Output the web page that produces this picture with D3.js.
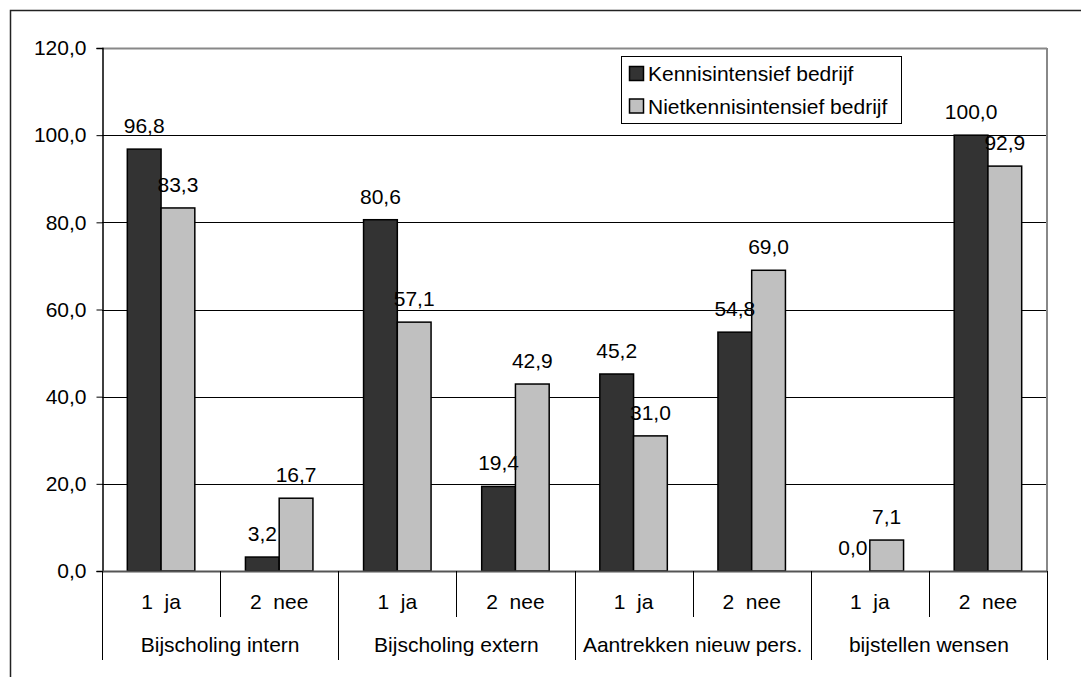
<!DOCTYPE html>
<html>
<head>
<meta charset="utf-8">
<script src="https://cdn.jsdelivr.net/npm/d3@7"></script>
<style>
  html, body { margin: 0; padding: 0; background: #fff; overflow: hidden; }
  svg { display: block; overflow: hidden; }
  text { font-family: "Liberation Sans", Arial, sans-serif; fill: #000; }
</style>
</head>
<body>
<svg id="chart" width="1081" height="677"></svg>
<script>
// Survey answers per question (ja / nee), percentages per company type
const groups = ["Bijscholing intern", "Bijscholing extern", "Aantrekken nieuw pers.", "bijstellen wensen"];
const answers = ["1  ja", "2  nee"];
const seriesNames = ["Kennisintensief bedrijf", "Nietkennisintensief bedrijf"];
const kennisintensief = [96.8, 3.2, 80.6, 19.4, 45.2, 54.8, 0.0, 100.0];
const nietKennisintensief = [83.3, 16.7, 57.1, 42.9, 31.0, 69.0, 7.1, 92.9];
const yTicks = [0, 20, 40, 60, 80, 100, 120];
const seriesColors = ["#333333", "#c0c0c0"];

const svg = d3.select("#chart");
const plot = { left: 102, right: 1047, top: 48, bottom: 571 };
const fontSize = 21;

// Outer chart frame (left and top edges fall inside the page)
svg.append("path")
  .attr("d", "M10.5,700 V10.5 H1100")
  .attr("fill", "none").attr("stroke", "#222").attr("stroke-width", 1.5);

// Category slots: one per question/answer combination
const slots = [];
groups.forEach((g, gi) => answers.forEach((a, ai) => slots.push({ group: g, answer: a, idx: gi * answers.length + ai })));

const x = d3.scaleBand().domain(slots.map(s => s.idx)).range([plot.left, plot.right]).padding(0);
const xSeries = d3.scaleBand().domain([0, 1]).range([0, x.bandwidth()]).paddingInner(0).paddingOuter(0.75);
const y = d3.scaleLinear().domain([0, 120]).range([plot.bottom, plot.top]);

const fmt = v => d3.format(".1f")(v).replace(".", ",");

// Horizontal gridlines
svg.append("g").selectAll("line")
  .data(yTicks.filter(t => t > 0))
  .join("line")
  .attr("x1", plot.left).attr("x2", plot.right)
  .attr("y1", d => Math.round(y(d)) + 0.5).attr("y2", d => Math.round(y(d)) + 0.5)
  .attr("stroke", d => d === 120 ? "#888" : "#000")
  .attr("stroke-width", d => d === 120 ? 2 : 1);

// Right border of plot area
svg.append("line")
  .attr("x1", plot.right).attr("x2", plot.right)
  .attr("y1", plot.top).attr("y2", plot.bottom)
  .attr("stroke", "#888").attr("stroke-width", 2);

// Y axis
const yAxis = d3.axisLeft(y).tickValues(yTicks).tickSize(6).tickPadding(10).tickFormat(fmt);
const gy = svg.append("g").attr("transform", `translate(${plot.left + 0.5},0)`).call(yAxis);
gy.select(".domain").attr("stroke", "#000").attr("stroke-width", 1.5);
gy.selectAll(".tick line").attr("stroke", "#000");
gy.selectAll(".tick text").style("font-size", fontSize + "px").style("font-family", "'Liberation Sans', Arial, sans-serif").attr("fill", "#000");

// Bars
const series = [kennisintensief, nietKennisintensief];
series.forEach((vals, si) => {
  svg.append("g").selectAll("rect")
    .data(slots)
    .join("rect")
    .filter(d => vals[d.idx] > 0)
    .attr("x", d => x(d.idx) + xSeries(si))
    .attr("y", d => y(vals[d.idx]))
    .attr("width", xSeries.bandwidth())
    .attr("height", d => y(0) - y(vals[d.idx]))
    .attr("fill", seriesColors[si])
    .attr("stroke", "#000").attr("stroke-width", 1.5);
});

// Value labels above bars
series.forEach((vals, si) => {
  svg.append("g").selectAll("text")
    .data(slots)
    .join("text")
    .attr("x", d => x(d.idx) + xSeries(si) + xSeries.bandwidth() / 2)
    .attr("y", d => y(vals[d.idx]) - 16)
    .attr("text-anchor", "middle")
    .style("font-size", fontSize + "px")
    .text(d => fmt(vals[d.idx]));
});

// Category axis baseline
svg.append("line")
  .attr("x1", plot.left).attr("x2", plot.right)
  .attr("y1", plot.bottom + 0.5).attr("y2", plot.bottom + 0.5)
  .attr("stroke", "#555").attr("stroke-width", 2);

// Separators between answers and groups
const bounds = d3.range(slots.length + 1);
svg.append("g").selectAll("line")
  .data(bounds)
  .join("line")
  .attr("x1", i => Math.round(plot.left + i * x.step()) + 0.5)
  .attr("x2", i => Math.round(plot.left + i * x.step()) + 0.5)
  .attr("y1", plot.bottom)
  .attr("y2", i => i % answers.length === 0 ? 660 : 617)
  .attr("stroke", "#000").attr("stroke-width", 1);

// Answer labels
svg.append("g").selectAll("text")
  .data(slots)
  .join("text")
  .attr("x", d => x(d.idx) + x.bandwidth() / 2)
  .attr("y", 609)
  .attr("text-anchor", "middle")
  .style("font-size", fontSize + "px")
  .style("white-space", "pre")
  .attr("xml:space", "preserve")
  .text(d => d.answer);

// Group labels
svg.append("g").selectAll("text")
  .data(groups)
  .join("text")
  .attr("x", (g, gi) => plot.left + (gi + 0.5) * answers.length * x.step())
  .attr("y", 652)
  .attr("text-anchor", "middle")
  .style("font-size", fontSize + "px")
  .text(g => g);

// Legend
const legend = svg.append("g").attr("transform", "translate(621,56)");
legend.append("rect")
  .attr("x", 0.5).attr("y", 0.5).attr("width", 280).attr("height", 67)
  .attr("fill", "#fff").attr("stroke", "#000").attr("stroke-width", 1);
seriesNames.forEach((name, i) => {
  const row = legend.append("g").attr("transform", `translate(8,${10 + i * 32.5})`);
  row.append("rect")
    .attr("x", 0.5).attr("y", 0.5).attr("width", 14).attr("height", 14)
    .attr("fill", seriesColors[i]).attr("stroke", "#000").attr("stroke-width", 1.5);
  row.append("text")
    .attr("x", 19).attr("y", 15)
    .style("font-size", fontSize + "px")
    .text(name);
});
</script>
</body>
</html>
